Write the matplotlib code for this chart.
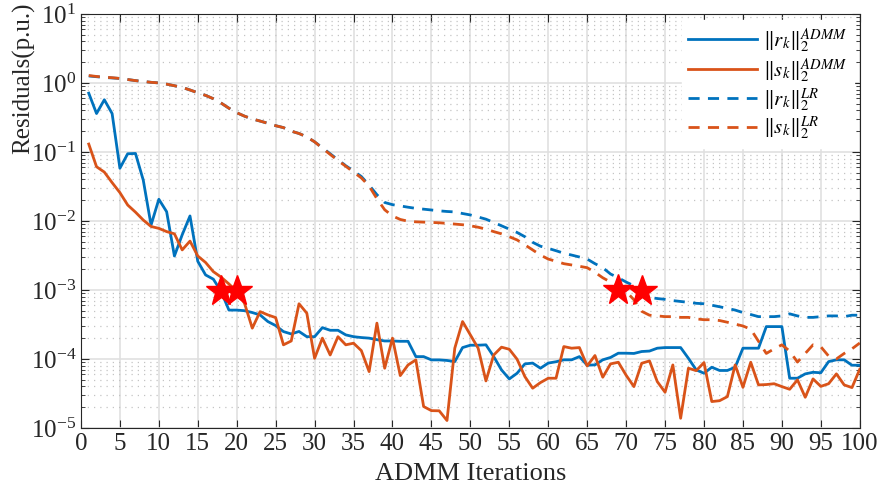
import numpy as np
import matplotlib
matplotlib.use('Agg')
import matplotlib.pyplot as plt
from matplotlib.ticker import LogLocator, MultipleLocator, NullFormatter

plt.rcParams['font.family'] = ['Liberation Serif', 'DejaVu Serif']
plt.rcParams['mathtext.fontset'] = 'stix'

iters = np.arange(1, 101)

# ||r_k||_2 ADMM
r_admm = [0.71, 0.36, 0.57, 0.36, 0.058, 0.094, 0.095, 0.039, 0.0087, 0.0206,
          0.0136, 0.0031, 0.0063, 0.0118, 0.0026, 0.00165, 0.00143, 0.00095, 0.00051, 0.00051,
          0.0005, 0.00047, 0.000434, 0.000348, 0.000304, 0.000249, 0.00023, 0.00025, 0.00021, 0.00021,
          0.000284, 0.00026, 0.00026, 0.000223, 0.00021, 0.000204, 0.0002, 0.00019, 0.000182, 0.000182,
          0.00018, 0.00018, 0.000108, 0.000108, 0.0000968, 0.0000968, 0.000095, 0.0000914, 0.000146, 0.000158,
          0.000158, 0.00016, 0.000108, 0.0000693, 0.0000513, 0.000062, 0.0000847, 0.000087, 0.0000733, 0.000087,
          0.000091, 0.000097, 0.000097, 0.000108, 0.000081, 0.000082, 0.000097, 0.000105, 0.000121, 0.000121,
          0.00012, 0.000128, 0.00013, 0.000143, 0.000146, 0.000146, 0.000146, 0.000102, 0.0000693, 0.000062,
          0.0000758, 0.000068, 0.000068, 0.0000758, 0.000143, 0.000143, 0.000143, 0.000294, 0.000294, 0.000294,
          0.0000525, 0.0000525, 0.0000607, 0.000064, 0.000063, 0.0000914, 0.000097, 0.000097, 0.000081, 0.000081]

# ||s_k||_2 ADMM
s_admm = [0.13, 0.061, 0.051, 0.0359, 0.0257, 0.017, 0.0134, 0.0103, 0.0083, 0.0078,
          0.007, 0.0065, 0.0038, 0.0051, 0.0031, 0.0025, 0.00184, 0.00153, 0.00122, 0.00095,
          0.00064, 0.000279, 0.000485, 0.000434, 0.000397, 0.00016, 0.000182, 0.00063, 0.00046, 0.000102,
          0.0002, 0.000114, 0.00021, 0.00016, 0.000169, 0.000132, 0.0000655, 0.00033, 0.0000733, 0.0002,
          0.0000573, 0.0000818, 0.0000968, 0.0000204, 0.0000178, 0.0000177, 0.0000128, 0.000143, 0.000348, 0.000223,
          0.000143, 0.000048, 0.000114, 0.000148, 0.000138, 0.0000989, 0.0000554, 0.0000376, 0.0000454, 0.0000525,
          0.0000525, 0.000151, 0.000143, 0.000146, 0.0000792, 0.000112, 0.0000543, 0.0000847, 0.0000895, 0.000058,
          0.0000397, 0.0000865, 0.0000935, 0.0000469, 0.0000329, 0.0000818, 0.0000138, 0.0000733, 0.0000676, 0.0000885,
          0.0000241, 0.0000248, 0.0000284, 0.0000818, 0.0000388, 0.0000895, 0.000042, 0.0000425, 0.0000437, 0.0000397,
          0.0000363, 0.0000497, 0.0000278, 0.0000513, 0.00004, 0.0000437, 0.0000607, 0.000042, 0.0000384, 0.0000708]

# ||r_k||_2 LR
r_lr = [1.26, 1.23, 1.2, 1.18, 1.16, 1.12, 1.08, 1.05, 1.02, 1.0,
        0.96, 0.91, 0.86, 0.79, 0.72, 0.66, 0.59, 0.51, 0.43, 0.37,
        0.33, 0.3, 0.28, 0.26, 0.24, 0.225, 0.2, 0.185, 0.165, 0.14,
        0.115, 0.094, 0.077, 0.063, 0.053, 0.044, 0.033, 0.024, 0.0185, 0.0172,
        0.0165, 0.0158, 0.0152, 0.0148, 0.0144, 0.014, 0.0137, 0.0135, 0.0128, 0.0122,
        0.0114, 0.0106, 0.0095, 0.0085, 0.0076, 0.0068, 0.0059, 0.0049, 0.0043, 0.004,
        0.0037, 0.0034, 0.0032, 0.003, 0.0028, 0.0024, 0.0021, 0.0017, 0.0015, 0.0013,
        0.00115, 0.00095, 0.00078, 0.00075, 0.00073, 0.0007, 0.00068, 0.00066, 0.00064, 0.00063,
        0.0006, 0.00057, 0.00054, 0.00051, 0.00047, 0.00044, 0.00041, 0.00041, 0.00041, 0.00042,
        0.00045, 0.00042, 0.0004, 0.0004, 0.00041, 0.00042, 0.00042, 0.00041, 0.00043, 0.00043]

# ||s_k||_2 LR
s_lr = [1.28, 1.24, 1.21, 1.19, 1.16, 1.12, 1.08, 1.05, 1.02, 1.0,
        0.96, 0.91, 0.86, 0.79, 0.72, 0.66, 0.59, 0.51, 0.43, 0.37,
        0.33, 0.3, 0.28, 0.26, 0.24, 0.225, 0.2, 0.185, 0.165, 0.14,
        0.113, 0.092, 0.075, 0.062, 0.051, 0.042, 0.032, 0.021, 0.0145, 0.0118,
        0.0105, 0.0099, 0.0097, 0.0096, 0.0095, 0.0094, 0.0092, 0.009, 0.0088, 0.0085,
        0.0081, 0.0076, 0.007, 0.0065, 0.0059, 0.0053, 0.0045, 0.0038, 0.0032, 0.0028,
        0.0026, 0.0024, 0.0023, 0.0022, 0.0021, 0.0018, 0.0015, 0.0013, 0.00118, 0.00095,
        0.00072, 0.00049, 0.00043, 0.00042, 0.00041, 0.00041, 0.0004, 0.0004, 0.00038, 0.00037,
        0.00037, 0.00036, 0.00034, 0.00032, 0.0003, 0.00027, 0.00018, 0.00012, 0.00014, 0.00016,
        0.00013, 0.00009, 0.00012, 0.00016, 0.00015, 0.00011, 0.0001, 0.00012, 0.00014, 0.00017]

star_x = [18, 20, 69, 72]
star_y = [0.00095, 0.00095, 0.001, 0.00095]

blue = '#0072BD'
orange = '#D95319'

fig = plt.figure(figsize=(8.8, 4.97), dpi=100)
ax = fig.add_axes([0.092, 0.139, 0.885, 0.833])

ax.semilogy(iters, r_admm, '-', color=blue, lw=2, label=r'$\Vert r_k\Vert_2^{ADMM}$')
ax.semilogy(iters, s_admm, '-', color=orange, lw=2, label=r'$\Vert s_k\Vert_2^{ADMM}$')
ax.semilogy(iters, r_lr, '--', color=blue, lw=2, dashes=(4, 3), label=r'$\Vert r_k\Vert_2^{LR}$')
ax.semilogy(iters, s_lr, '--', color=orange, lw=2, dashes=(4, 3), label=r'$\Vert s_k\Vert_2^{LR}$')
ax.plot(star_x, star_y, '*', color='red', ms=23, zorder=5)

ax.set_xlim(0, 100)
ax.set_ylim(1e-5, 1e1)
ax.xaxis.set_major_locator(MultipleLocator(5))
ax.yaxis.set_major_locator(LogLocator(base=10, numticks=10))
ax.yaxis.set_minor_locator(LogLocator(base=10, subs=np.arange(2, 10), numticks=100))
ax.yaxis.set_minor_formatter(NullFormatter())

ax.grid(True, which='major', color='#e0e0e0', lw=1.2, ls='-')
ax.grid(True, which='minor', axis='y', color='#c4c4c4', lw=0.9, ls=(0, (1, 4)))
ax.set_axisbelow(True)

ax.tick_params(which='both', direction='in', top=True, right=True, labelsize=18, colors='#262626')
ax.tick_params(which='major', length=6)
ax.tick_params(which='minor', length=3)
for sp in ax.spines.values():
    sp.set_color('#262626')

ax.set_xlabel('ADMM Iterations', fontsize=19, color='#262626', labelpad=6)
ax.set_ylabel('Residuals(p.u.)', fontsize=18, color='#262626', va='center')
ax.yaxis.set_label_coords(-0.073, 0.845)

leg = ax.legend(loc='upper right', fontsize=15, frameon=True, fancybox=False,
                edgecolor='white', framealpha=1, handlelength=3.3,
                borderaxespad=0.3, labelspacing=0.05, handletextpad=0.3,
                borderpad=0.3)

fig.savefig('out.png', dpi=100)
